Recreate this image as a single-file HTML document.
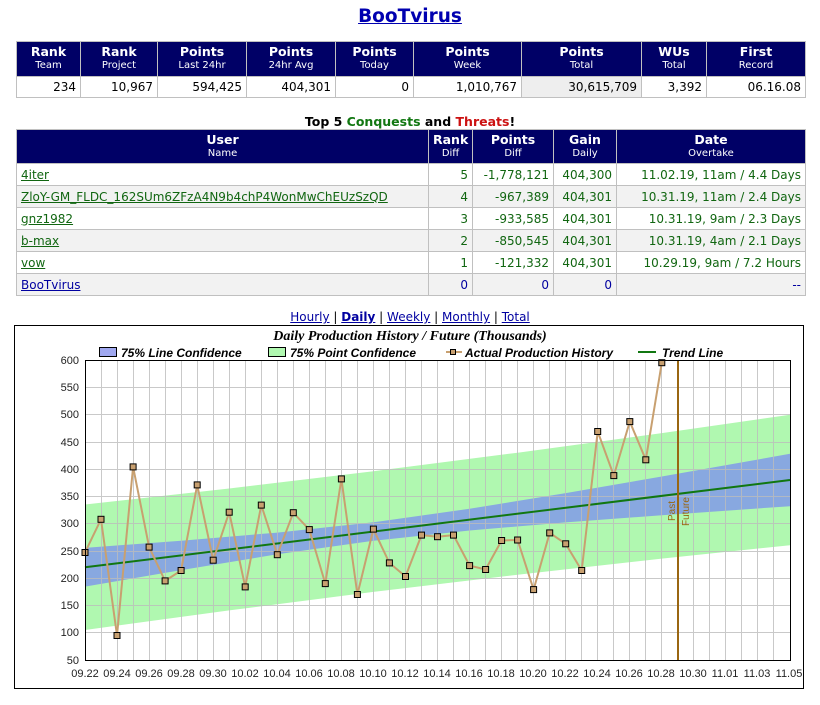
<!DOCTYPE html>
<html><head><meta charset="utf-8"><style>
body{margin:0;width:820px;height:705px;background:#fff;font-family:"DejaVu Sans","Liberation Sans",sans-serif;position:relative;overflow:hidden}
.t{position:absolute;border-collapse:collapse;table-layout:fixed;font-size:12px}
.t td,.t th{border:1px solid #c0c0c0;padding:0 4px;white-space:nowrap;overflow:hidden}
.t th{background:#000066;color:#fff;font-size:12.5px;line-height:14px;font-weight:bold;text-align:center;vertical-align:middle}
.t th small{display:block;font-size:10px;font-weight:normal}
.t td{text-align:right;height:20px}
.t2 td{height:21px}
a{color:#0000a0;text-decoration:underline}
.g td{color:#116611}
.g a{color:#116611}
.alt td{background:#f2f2f2}
</style></head><body>
<div style="position:absolute;left:0;width:820px;top:6px;text-align:center;font-size:18.5px;font-weight:bold"><a style="color:#0000b0">BooTvirus</a></div>
<table class="t" style="left:16px;top:41px;width:789px">
<colgroup><col style="width:64px"><col style="width:77px"><col style="width:89px"><col style="width:89px"><col style="width:78px"><col style="width:108px"><col style="width:120px"><col style="width:65px"><col style="width:99px"></colgroup>
<tr style="height:35px"><th>Rank<small>Team</small></th><th>Rank<small>Project</small></th><th>Points<small>Last 24hr</small></th><th>Points<small>24hr Avg</small></th><th>Points<small>Today</small></th><th>Points<small>Week</small></th><th>Points<small>Total</small></th><th>WUs<small>Total</small></th><th>First<small>Record</small></th></tr>
<tr><td>234</td><td>10,967</td><td>594,425</td><td>404,301</td><td>0</td><td>1,010,767</td><td style="background:#eee">30,615,709</td><td>3,392</td><td>06.16.08</td></tr>
</table>
<div style="position:absolute;left:0;width:820px;top:114px;text-align:center;font-size:12.5px;font-weight:bold">Top 5 <span style="color:#117711">Conquests</span> and <span style="color:#cc1111">Threats</span>!</div>
<table class="t t2" style="left:16px;top:129px;width:789px">
<colgroup><col style="width:412px"><col style="width:44px"><col style="width:81px"><col style="width:63px"><col style="width:189px"></colgroup>
<tr style="height:34px"><th>User<small>Name</small></th><th>Rank<small>Diff</small></th><th>Points<small>Diff</small></th><th>Gain<small>Daily</small></th><th>Date<small>Overtake</small></th></tr>
<tr class="g"><td style="text-align:left"><a>4iter</a></td><td>5</td><td>-1,778,121</td><td>404,300</td><td>11.02.19, 11am / 4.4 Days</td></tr>
<tr class="g alt"><td style="text-align:left"><a>ZloY-GM_FLDC_162SUm6ZFzA4N9b4chP4WonMwChEUzSzQD</a></td><td>4</td><td>-967,389</td><td>404,301</td><td>10.31.19, 11am / 2.4 Days</td></tr>
<tr class="g"><td style="text-align:left"><a>gnz1982</a></td><td>3</td><td>-933,585</td><td>404,301</td><td>10.31.19, 9am / 2.3 Days</td></tr>
<tr class="g alt"><td style="text-align:left"><a>b-max</a></td><td>2</td><td>-850,545</td><td>404,301</td><td>10.31.19, 4am / 2.1 Days</td></tr>
<tr class="g"><td style="text-align:left"><a>vow</a></td><td>1</td><td>-121,332</td><td>404,301</td><td>10.29.19, 9am / 7.2 Hours</td></tr>
<tr class="alt" style="color:#0000a0"><td style="text-align:left"><a>BooTvirus</a></td><td>0</td><td>0</td><td>0</td><td>--</td></tr>
</table>
<div style="position:absolute;left:0;width:820px;top:310px;text-align:center;font-size:12px"><a>Hourly</a> | <a style="font-weight:bold">Daily</a> | <a>Weekly</a> | <a>Monthly</a> | <a>Total</a></div>
<svg style="position:absolute;left:0;top:0" width="820" height="705" font-family="Liberation Sans,Arial,sans-serif">
<rect x="14.5" y="325.5" width="789" height="363" fill="none" stroke="#000"/>
<text x="410" y="340" text-anchor="middle" font-family="Liberation Serif,serif" font-style="italic" font-weight="bold" font-size="14">Daily Production History / Future (Thousands)</text>
<g font-style="italic" font-weight="bold" font-size="12">
<rect x="99.5" y="347.5" width="17" height="9" fill="#a0a8f0" stroke="#000"/><text x="121" y="357">75% Line Confidence</text>
<rect x="268.5" y="347.5" width="17" height="9" fill="#b0f8b0" stroke="#000"/><text x="290" y="357">75% Point Confidence</text>
<line x1="446" y1="352" x2="462" y2="352" stroke="#c8a070" stroke-width="2"/><rect x="450.5" y="349.5" width="5" height="5" fill="#c8a070" stroke="#000"/><text x="465" y="357">Actual Production History</text>
<line x1="638" y1="352" x2="656" y2="352" stroke="#117711" stroke-width="2"/><text x="662" y="357">Trend Line</text>
</g>
<polygon points="85,504.5 229.2,488.5 373.4,471.2 517.6,452.7 661.8,433.1 790,414.8 790,545.2 661.8,558.6 517.6,574.7 373.4,591.9 229.2,610.4 85,630" fill="#b0f8b0"/>
<polygon points="85,547.9 181.1,540.7 277.3,532.6 373.4,522.3 469.6,508.8 565.7,493.1 661.8,476.5 790,453.8 790,506.2 661.8,515.2 565.7,522.4 469.6,530.5 373.4,540.8 277.3,554.3 181.1,570.1 85,586.6" fill="#88a8e0"/>
<path stroke="#bbb" fill="none" d="M85,387.5H790M85,414.5H790M85,442.5H790M85,469.5H790M85,496.5H790M85,523.5H790M85,551.5H790M85,578.5H790M85,605.5H790M85,632.5H790
M101.5,360V660M117.5,360V660M133.5,360V660M149.5,360V660M165.5,360V660M181.5,360V660M197.5,360V660M213.5,360V660M229.5,360V660M245.5,360V660M261.5,360V660M277.5,360V660M293.5,360V660M309.5,360V660M325.5,360V660M341.5,360V660M357.5,360V660M373.5,360V660M389.5,360V660M405.5,360V660M421.5,360V660M437.5,360V660M453.5,360V660M469.5,360V660M485.5,360V660M501.5,360V660M517.5,360V660M533.5,360V660M549.5,360V660M565.5,360V660M581.5,360V660M597.5,360V660M613.5,360V660M629.5,360V660M645.5,360V660M661.5,360V660M677.5,360V660M693.5,360V660M709.5,360V660M725.5,360V660M741.5,360V660M757.5,360V660M773.5,360V660" opacity="0.8"/>
<line x1="85" y1="567.3" x2="790" y2="480" stroke="#117711" stroke-width="2"/>
<line x1="678" y1="360" x2="678" y2="660" stroke="#996611" stroke-width="2"/>
<text transform="translate(675,521) rotate(-90)" font-size="10" fill="#996611">Past</text>
<text transform="translate(689,526) rotate(-90)" font-size="10" fill="#996611">Future</text>
<polyline fill="none" stroke="#c8a070" stroke-width="2" points="85,552.5 101,519.3 117,635.5 133.1,466.9 149.1,547.1 165.1,580.9 181.1,570.5 197.2,484.9 213.2,560.2 229.2,512.2 245.2,586.9 261.3,505.1 277.3,554.7 293.3,512.7 309.3,529.6 325.3,583.6 341.4,478.9 357.4,594.5 373.4,529.1 389.4,562.9 405.5,576.5 421.5,535.1 437.5,536.7 453.5,535.1 469.6,565.6 485.6,569.5 501.6,540.5 517.6,540 533.6,589.6 549.7,532.9 565.7,543.8 581.7,570.5 597.7,431.5 613.8,475.6 629.8,421.6 645.8,459.8 661.8,362.7"/>
<g fill="#c8a070" stroke="#000">
<rect x="82" y="549.5" width="6" height="6"/><rect x="98" y="516.3" width="6" height="6"/><rect x="114" y="632.5" width="6" height="6"/><rect x="130.1" y="463.9" width="6" height="6"/><rect x="146.1" y="544.1" width="6" height="6"/><rect x="162.1" y="577.9" width="6" height="6"/><rect x="178.1" y="567.5" width="6" height="6"/><rect x="194.2" y="481.9" width="6" height="6"/><rect x="210.2" y="557.2" width="6" height="6"/><rect x="226.2" y="509.2" width="6" height="6"/><rect x="242.2" y="583.9" width="6" height="6"/><rect x="258.3" y="502.1" width="6" height="6"/><rect x="274.3" y="551.7" width="6" height="6"/><rect x="290.3" y="509.7" width="6" height="6"/><rect x="306.3" y="526.6" width="6" height="6"/><rect x="322.3" y="580.6" width="6" height="6"/><rect x="338.4" y="475.9" width="6" height="6"/><rect x="354.4" y="591.5" width="6" height="6"/><rect x="370.4" y="526.1" width="6" height="6"/><rect x="386.4" y="559.9" width="6" height="6"/><rect x="402.5" y="573.5" width="6" height="6"/><rect x="418.5" y="532.1" width="6" height="6"/><rect x="434.5" y="533.7" width="6" height="6"/><rect x="450.5" y="532.1" width="6" height="6"/><rect x="466.6" y="562.6" width="6" height="6"/><rect x="482.6" y="566.5" width="6" height="6"/><rect x="498.6" y="537.5" width="6" height="6"/><rect x="514.6" y="537" width="6" height="6"/><rect x="530.6" y="586.6" width="6" height="6"/><rect x="546.7" y="529.9" width="6" height="6"/><rect x="562.7" y="540.8" width="6" height="6"/><rect x="578.7" y="567.5" width="6" height="6"/><rect x="594.7" y="428.5" width="6" height="6"/><rect x="610.8" y="472.6" width="6" height="6"/><rect x="626.8" y="418.6" width="6" height="6"/><rect x="642.8" y="456.8" width="6" height="6"/><rect x="658.8" y="359.7" width="6" height="6"/>
</g>
<rect x="85.5" y="360.5" width="705" height="300" fill="none" stroke="#000"/>
<g font-size="11" fill="#222" text-anchor="end">
<text x="79" y="364">600</text><text x="79" y="391">550</text><text x="79" y="418">500</text><text x="79" y="446">450</text><text x="79" y="473">400</text><text x="79" y="500">350</text><text x="79" y="527">300</text><text x="79" y="555">250</text><text x="79" y="582">200</text><text x="79" y="609">150</text><text x="79" y="636">100</text><text x="79" y="664">50</text>
</g>
<g font-size="11" fill="#222" text-anchor="middle">
<text x="85" y="677">09.22</text><text x="117" y="677">09.24</text><text x="149" y="677">09.26</text><text x="181" y="677">09.28</text><text x="213" y="677">09.30</text><text x="245" y="677">10.02</text><text x="277" y="677">10.04</text><text x="309" y="677">10.06</text><text x="341" y="677">10.08</text><text x="373" y="677">10.10</text><text x="405" y="677">10.12</text><text x="437" y="677">10.14</text><text x="469" y="677">10.16</text><text x="501" y="677">10.18</text><text x="533" y="677">10.20</text><text x="565" y="677">10.22</text><text x="597" y="677">10.24</text><text x="629" y="677">10.26</text><text x="661" y="677">10.28</text><text x="693" y="677">10.30</text><text x="725" y="677">11.01</text><text x="757" y="677">11.03</text><text x="789" y="677">11.05</text>
</g>
</svg>
</body></html>
